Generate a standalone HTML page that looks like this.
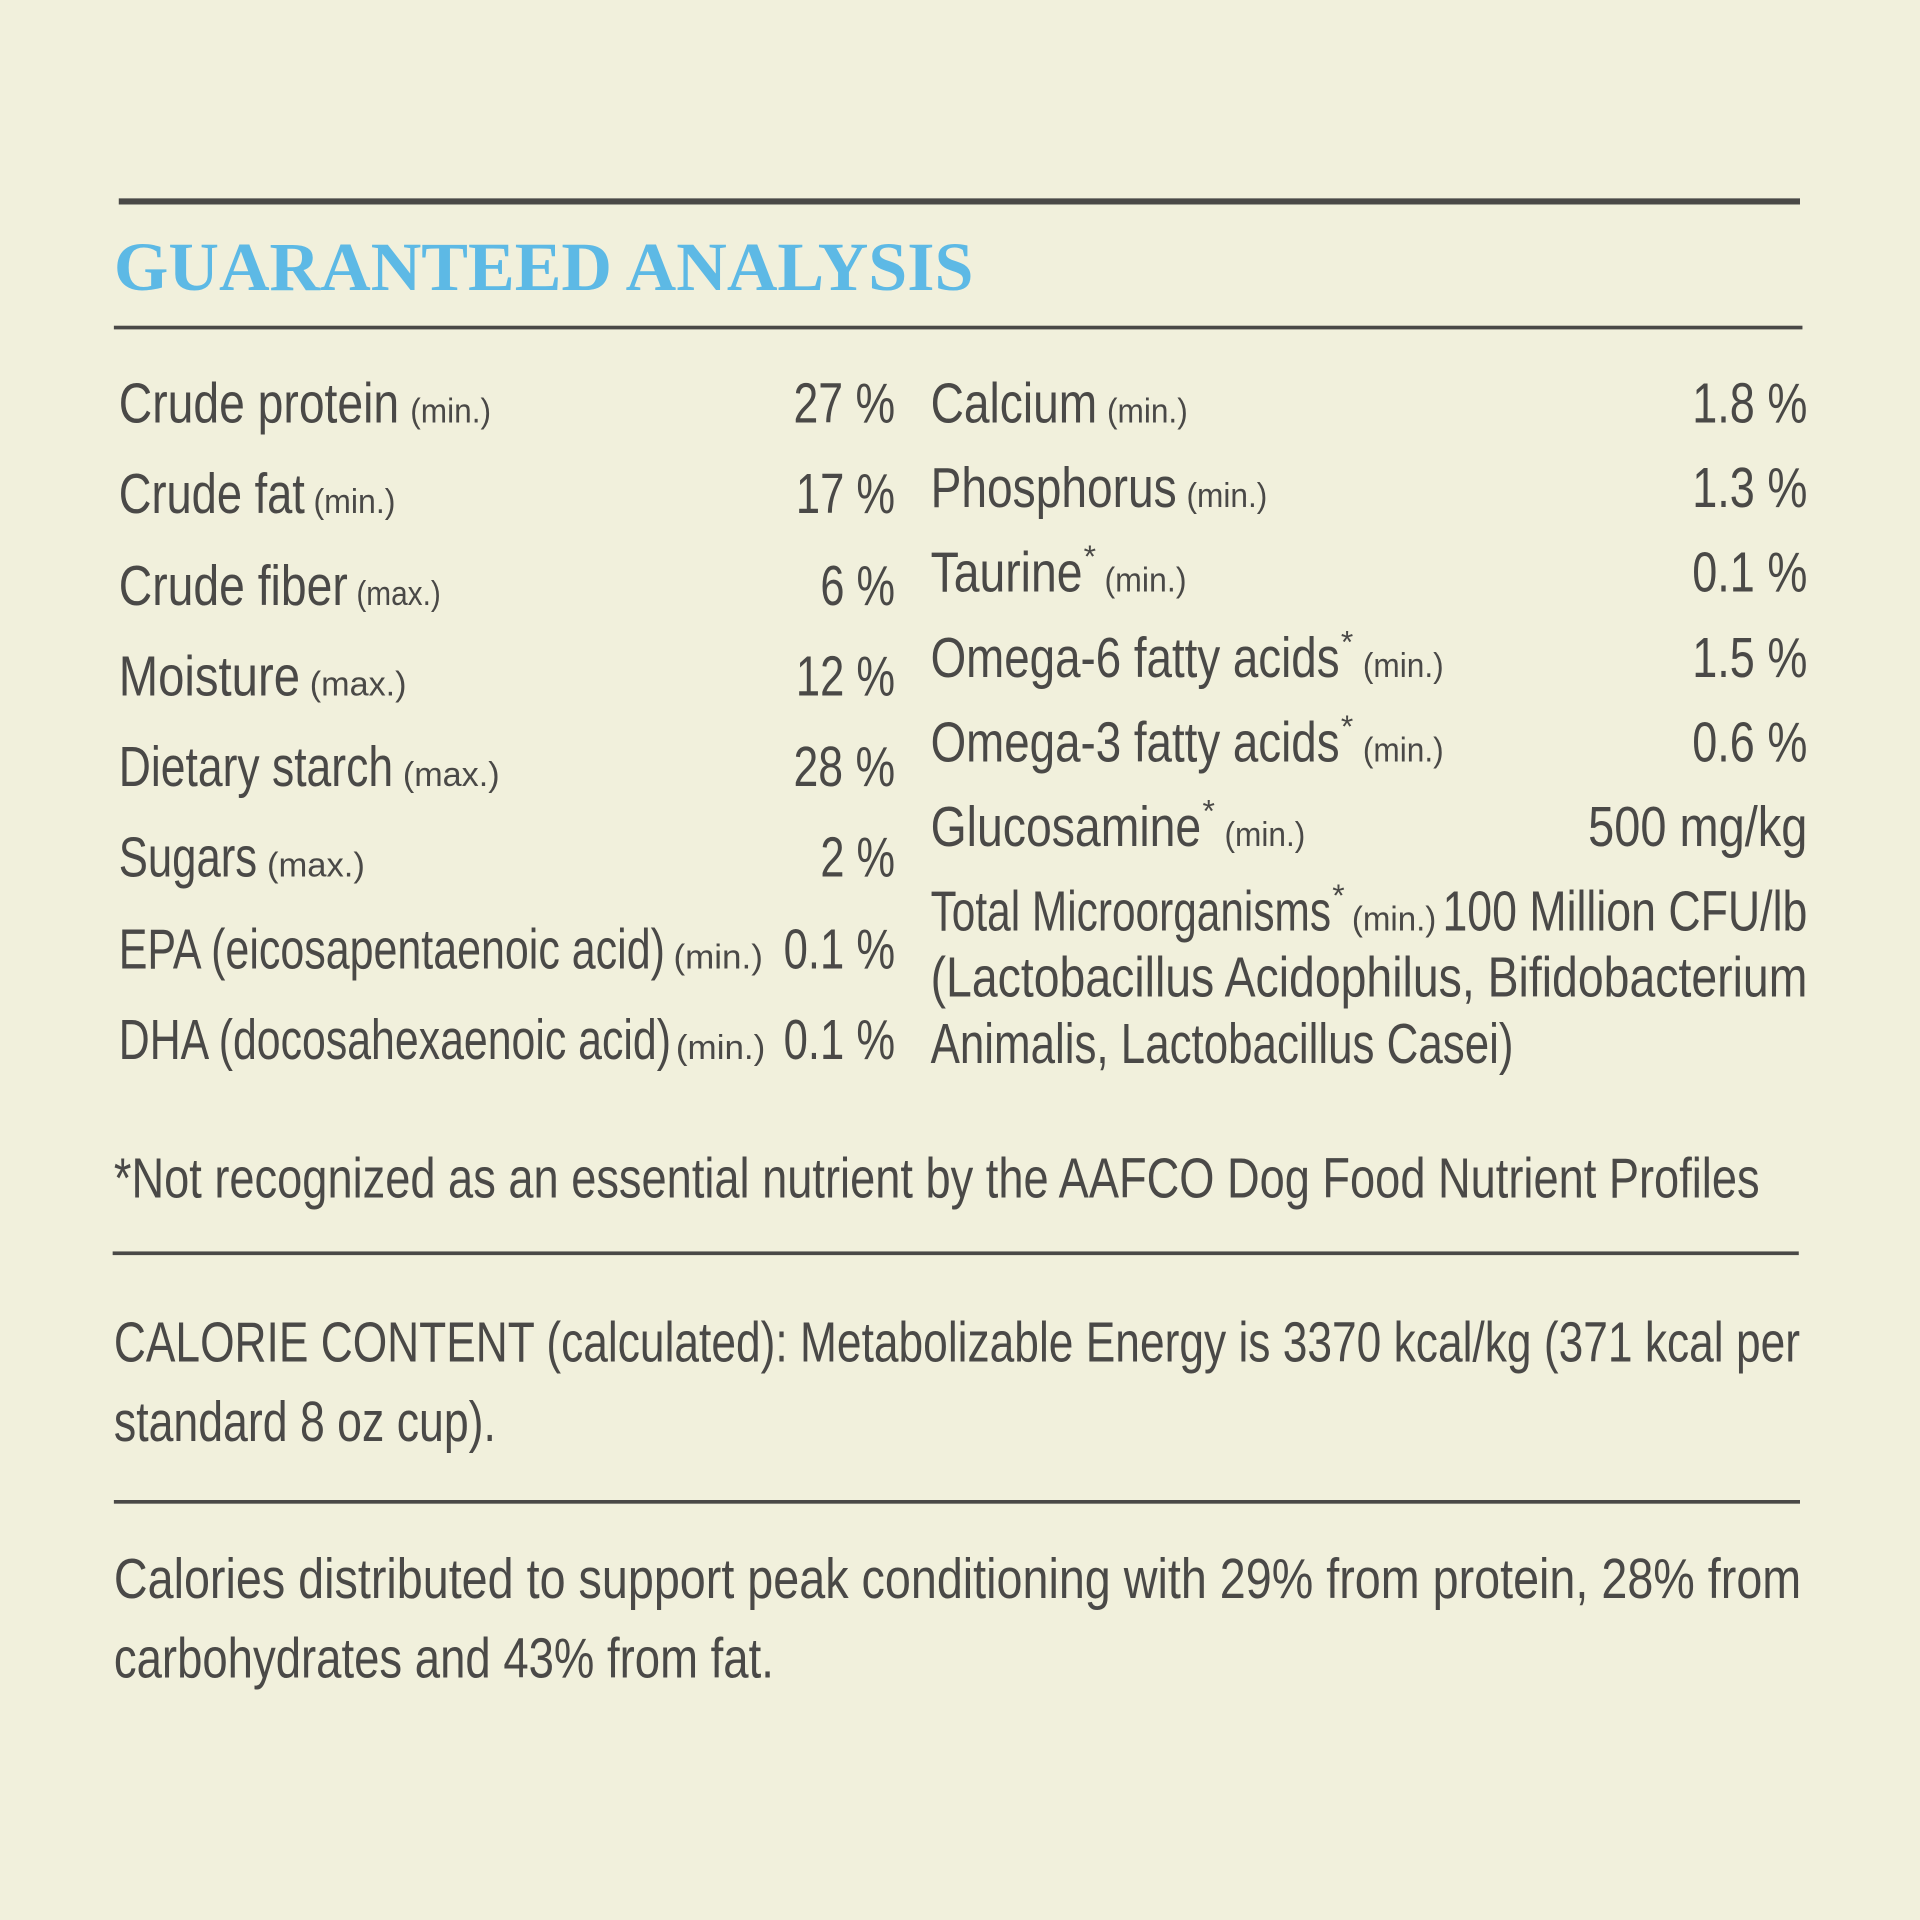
<!DOCTYPE html>
<html><head><meta charset="utf-8"><style>
html,body{margin:0;padding:0;background:#f1f0dc;}
svg{display:block;}
text{font-family:"Liberation Sans",sans-serif;fill:#4a4947;}
.m{font-size:46px;}
.s{font-size:28px;}
.a{font-size:26px;}
.t{font-family:"Liberation Serif",serif;font-weight:bold;font-size:56px;fill:#5db9e5;}
</style></head><body>
<svg width="1920" height="1920" viewBox="0 0 1568 1568" xmlns="http://www.w3.org/2000/svg">
<rect width="1568" height="1568" fill="#f1f0dc"/>
<rect x="97" y="162" width="1373" height="5" fill="#4a4947"/>
<text class="t" x="93" y="237" textLength="702" lengthAdjust="spacingAndGlyphs">GUARANTEED ANALYSIS</text>
<rect x="93" y="266" width="1379" height="3" fill="#4a4947"/>

<g lengthAdjust="spacingAndGlyphs">
<text class="m" x="97" y="345" textLength="229" lengthAdjust="spacingAndGlyphs">Crude protein</text>
<text class="s" x="335" y="345" textLength="66" lengthAdjust="spacingAndGlyphs">(min.)</text>
<text class="m" x="648" y="345" textLength="83" lengthAdjust="spacingAndGlyphs">27 %</text>

<text class="m" x="97" y="419" textLength="152" lengthAdjust="spacingAndGlyphs">Crude fat</text>
<text class="s" x="256" y="419" textLength="67" lengthAdjust="spacingAndGlyphs">(min.)</text>
<text class="m" x="650" y="419" textLength="81" lengthAdjust="spacingAndGlyphs">17 %</text>

<text class="m" x="97" y="494" textLength="187" lengthAdjust="spacingAndGlyphs">Crude fiber</text>
<text class="s" x="291" y="494" textLength="69" lengthAdjust="spacingAndGlyphs">(max.)</text>
<text class="m" x="670" y="494" textLength="61" lengthAdjust="spacingAndGlyphs">6 %</text>

<text class="m" x="97" y="568" textLength="148" lengthAdjust="spacingAndGlyphs">Moisture</text>
<text class="s" x="253" y="568" textLength="79" lengthAdjust="spacingAndGlyphs">(max.)</text>
<text class="m" x="650" y="568" textLength="81" lengthAdjust="spacingAndGlyphs">12 %</text>

<text class="m" x="97" y="642" textLength="224" lengthAdjust="spacingAndGlyphs">Dietary starch</text>
<text class="s" x="329" y="642" textLength="79" lengthAdjust="spacingAndGlyphs">(max.)</text>
<text class="m" x="648" y="642" textLength="83" lengthAdjust="spacingAndGlyphs">28 %</text>

<text class="m" x="97" y="716" textLength="113" lengthAdjust="spacingAndGlyphs">Sugars</text>
<text class="s" x="218" y="716" textLength="80" lengthAdjust="spacingAndGlyphs">(max.)</text>
<text class="m" x="670" y="716" textLength="61" lengthAdjust="spacingAndGlyphs">2 %</text>

<text class="m" x="97" y="791" textLength="446" lengthAdjust="spacingAndGlyphs">EPA (eicosapentaenoic acid)</text>
<text class="s" x="550" y="791" textLength="73" lengthAdjust="spacingAndGlyphs">(min.)</text>
<text class="m" x="640" y="791" textLength="91" lengthAdjust="spacingAndGlyphs">0.1 %</text>

<text class="m" x="97" y="865" textLength="451" lengthAdjust="spacingAndGlyphs">DHA (docosahexaenoic acid)</text>
<text class="s" x="552" y="865" textLength="73" lengthAdjust="spacingAndGlyphs">(min.)</text>
<text class="m" x="640" y="865" textLength="91" lengthAdjust="spacingAndGlyphs">0.1 %</text>

<text class="m" x="760" y="345" textLength="136" lengthAdjust="spacingAndGlyphs">Calcium</text>
<text class="s" x="904" y="345" textLength="66" lengthAdjust="spacingAndGlyphs">(min.)</text>
<text class="m" x="1382" y="345" textLength="94" lengthAdjust="spacingAndGlyphs">1.8 %</text>

<text class="m" x="760" y="414" textLength="201" lengthAdjust="spacingAndGlyphs">Phosphorus</text>
<text class="s" x="969" y="414" textLength="66" lengthAdjust="spacingAndGlyphs">(min.)</text>
<text class="m" x="1382" y="414" textLength="94" lengthAdjust="spacingAndGlyphs">1.3 %</text>

<text class="m" x="760" y="483" textLength="124" lengthAdjust="spacingAndGlyphs">Taurine</text>
<text class="a" x="885" y="463">*</text>
<text class="s" x="902" y="483" textLength="67" lengthAdjust="spacingAndGlyphs">(min.)</text>
<text class="m" x="1382" y="483" textLength="94" lengthAdjust="spacingAndGlyphs">0.1 %</text>

<text class="m" x="760" y="553" textLength="334" lengthAdjust="spacingAndGlyphs">Omega-6 fatty acids</text>
<text class="a" x="1095" y="533">*</text>
<text class="s" x="1113" y="553" textLength="66" lengthAdjust="spacingAndGlyphs">(min.)</text>
<text class="m" x="1382" y="553" textLength="94" lengthAdjust="spacingAndGlyphs">1.5 %</text>

<text class="m" x="760" y="622" textLength="334" lengthAdjust="spacingAndGlyphs">Omega-3 fatty acids</text>
<text class="a" x="1095" y="602">*</text>
<text class="s" x="1113" y="622" textLength="66" lengthAdjust="spacingAndGlyphs">(min.)</text>
<text class="m" x="1382" y="622" textLength="94" lengthAdjust="spacingAndGlyphs">0.6 %</text>

<text class="m" x="760" y="691" textLength="221" lengthAdjust="spacingAndGlyphs">Glucosamine</text>
<text class="a" x="982" y="671">*</text>
<text class="s" x="1000" y="691" textLength="66" lengthAdjust="spacingAndGlyphs">(min.)</text>
<text class="m" x="1297" y="691" textLength="179" lengthAdjust="spacingAndGlyphs">500 mg/kg</text>

<text class="m" x="760" y="760" textLength="327" lengthAdjust="spacingAndGlyphs">Total Microorganisms</text>
<text class="a" x="1088" y="740">*</text>
<text class="s" x="1104" y="760" textLength="69" lengthAdjust="spacingAndGlyphs">(min.)</text>
<text class="m" x="1178" y="760" textLength="298" lengthAdjust="spacingAndGlyphs">100 Million CFU/lb</text>
<text class="m" x="760" y="814" textLength="716" lengthAdjust="spacingAndGlyphs">(Lactobacillus  Acidophilus,  Bifidobacterium</text>
<text class="m" x="760" y="868" textLength="476" lengthAdjust="spacingAndGlyphs">Animalis, Lactobacillus Casei)</text>

<text class="m" x="93" y="978" textLength="1344" lengthAdjust="spacingAndGlyphs">*Not recognized as an essential nutrient by the AAFCO Dog Food Nutrient Profiles</text>
</g>
<rect x="92" y="1022" width="1377" height="3" fill="#4a4947"/>
<text class="m" x="93" y="1112" textLength="1377" lengthAdjust="spacingAndGlyphs">CALORIE CONTENT (calculated): Metabolizable Energy is 3370 kcal/kg (371 kcal per</text>
<text class="m" x="93" y="1177" textLength="312" lengthAdjust="spacingAndGlyphs">standard 8 oz cup).</text>
<rect x="93" y="1225" width="1377" height="3" fill="#4a4947"/>
<text class="m" x="93" y="1305" textLength="1378" lengthAdjust="spacingAndGlyphs">Calories distributed to support peak conditioning with 29% from protein, 28% from</text>
<text class="m" x="93" y="1370" textLength="539" lengthAdjust="spacingAndGlyphs">carbohydrates and 43% from fat.</text>
</svg>
</body></html>
